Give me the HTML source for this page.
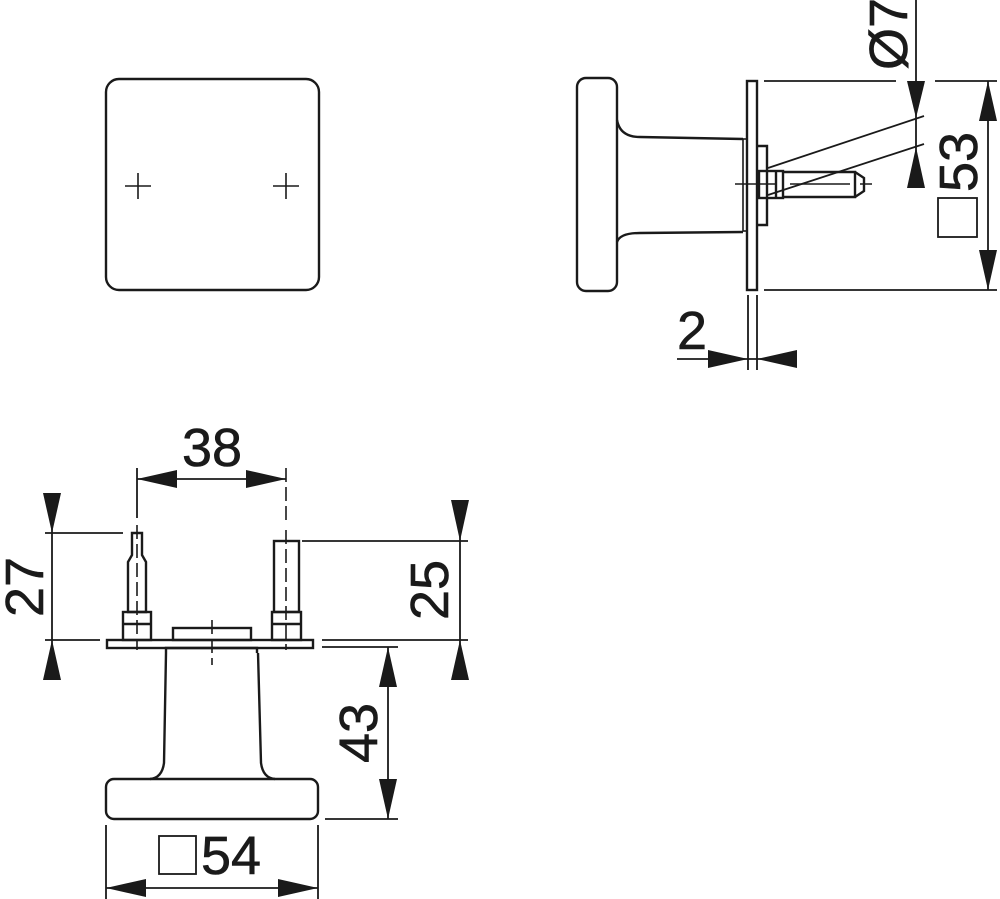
<!DOCTYPE html>
<html><head><meta charset="utf-8"><style>
html,body{margin:0;padding:0;background:#fff;}
svg{display:block;}
text{font-family:"Liberation Sans",sans-serif;fill:#1a1a1a;stroke:#1a1a1a;stroke-width:0.6;}
</style></head><body>
<svg width="1000" height="899" viewBox="0 0 1000 899" xmlns="http://www.w3.org/2000/svg">
<g fill="none" stroke="#1a1a1a" stroke-width="2.4">
<rect x="106" y="79" width="213" height="211" rx="13"/>
<path d="M125 186h26M138 173v26M273 186h26M286 173v26" stroke-width="1.6"/>

<rect x="577" y="78" width="40" height="213" rx="9"/>
<path d="M617 120 Q620 137 640 137 L743 139 M617 242 Q620 233 640 233 L743 232"/>
<rect x="743" y="139" width="4" height="92" stroke-width="1.6"/>
<rect x="747" y="81" width="10" height="209"/>
<path d="M757 146h10v79h-10"/>
<rect x="759" y="171" width="24" height="27"/>
<path d="M776 171v27M783 172h72v25h-72M855 172l9 6v13l-9 6"/>
<path d="M735 184h40M790 184h60M860 184h12" stroke-width="1.6"/>
<path d="M768 168L924 116M768 195L924 144" stroke-width="1.8"/>
<path d="M764 81h132M935 81h62M764 290h233" stroke-width="1.8"/>
<path d="M916 0v188M988 81v209" stroke-width="1.8"/>
<path d="M748 295v75M757 295v75M677 359h120" stroke-width="1.8"/>

<rect x="107" y="640" width="206" height="8"/>
<rect x="173" y="628" width="78" height="12"/>
<path d="M166 653v-5h91v5"/>
<path d="M166 653 L164 763 Q162 778 150 779 M258 653 L261 763 Q263 778 275 779"/>
<rect x="106" y="779" width="212" height="40" rx="8"/>
<path d="M132 533h10v22l4 7v50h-18v-50l4-7z"/>
<rect x="123" y="612" width="28" height="28"/>
<path d="M123 624h28"/>
<rect x="274" y="541" width="25" height="71"/>
<rect x="272" y="612" width="29" height="28"/>
<path d="M272 624h29"/>
<path d="M137 525v125M286 468v55M286 530v120M212 620v45" stroke-width="1.6" stroke-dasharray="14,5"/>
<path d="M137 468v50" stroke-width="1.8"/>
<path d="M137 479h149" stroke-width="1.8"/>
<path d="M45 533h78M45 640h55M52 493v187" stroke-width="1.8"/>
<path d="M302 541h166M322 640h146M460 500v180" stroke-width="1.8"/>
<path d="M322 647h76M325 819h73M388 647v172" stroke-width="1.8"/>
<path d="M106 825v74M318 825v74M106 888h212" stroke-width="1.8"/>
<rect x="159" y="836" width="37" height="38" stroke-width="1.8"/>
<rect x="938" y="198" width="39" height="39" stroke-width="1.8"/>
</g>
<g fill="#1a1a1a">
<path d="M907 81h18l-9 37z"/>
<path d="M907 188h18l-9-41z"/>
<path d="M979 121h18l-9-40z"/>
<path d="M979 250h18l-9 40z"/>
<path d="M708 350v18l40-9z"/>
<path d="M797 350v18l-40-9z"/>
<path d="M177 470v18l-40-9z"/>
<path d="M246 470v18l40-9z"/>
<path d="M43 493h18l-9 40z"/>
<path d="M43 680h18l-9-40z"/>
<path d="M451 500h18l-9 41z"/>
<path d="M451 680h18l-9-40z"/>
<path d="M379 687h18l-9-40z"/>
<path d="M379 779h18l-9 40z"/>
<path d="M146 879v18l-40-9z"/>
<path d="M278 879v18l40-9z"/>
</g>
<text x="212" y="466" font-size="54" text-anchor="middle">38</text>
<text x="201" y="874" font-size="54">54</text>
<text x="692" y="349" font-size="54" text-anchor="middle">2</text>
<text transform="translate(43,587) rotate(-90)" font-size="54" text-anchor="middle">27</text>
<text transform="translate(448,590) rotate(-90)" font-size="54" text-anchor="middle">25</text>
<text transform="translate(377,733) rotate(-90)" font-size="54" text-anchor="middle">43</text>
<text transform="translate(977,162) rotate(-90)" font-size="54" text-anchor="middle">53</text>
<text transform="translate(907,34) rotate(-90)" font-size="54" text-anchor="middle">Ø7</text>
</svg>
</body></html>
